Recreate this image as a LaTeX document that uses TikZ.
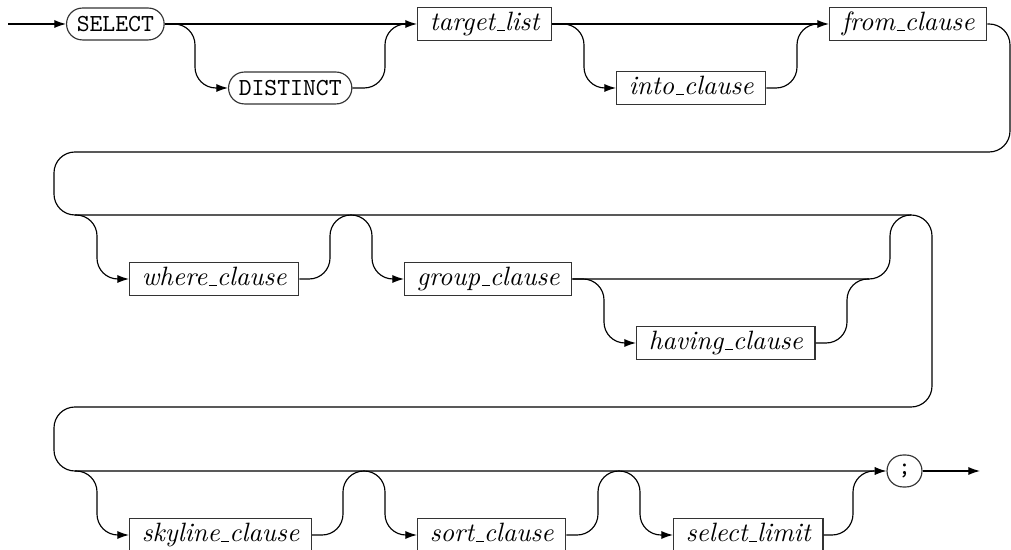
\documentclass[tikz,border=0pt]{standalone}
\usetikzlibrary{arrows.meta}
\newcommand{\usc}{\leavevmode\kern.06em\vbox{\hrule width.3em}}
\begin{document}
\begin{tikzpicture}[x=0.392pt,y=-0.392pt,
  rail/.style={line width=0.45pt, rounded corners=8.2pt},
  tip/.style={-{Latex[length=4.6pt,width=3.2pt]}},
  nonterm/.style={draw=black!80, line width=0.45pt, rectangle,
    font=\fontsize{10.4}{12}\selectfont\itshape,
    text height=7.2pt, text depth=2pt, inner xsep=4.8pt, inner ysep=1.85pt},
  term/.style={draw=black!80, line width=0.45pt, rectangle, rounded corners=6.2pt,
    font=\fontsize{9.6}{11}\selectfont\ttfamily, minimum height=12.5pt,
    inner xsep=4pt, inner ysep=0pt}
]
\useasboundingbox (0,0) rectangle (1011,550);

% nodes
\node[term, anchor=west] (sel) at (66,24) {SELECT};
\node[term, anchor=west] (dis) at (228,88) {DISTINCT};
\node[nonterm, anchor=west] (tl) at (417,24) {target\usc list};
\node[nonterm, anchor=west] (into) at (616,88) {into\usc clause};
\node[nonterm, anchor=west] (from) at (829,24) {from\usc clause};
\node[nonterm, anchor=west] (where) at (129,279) {where\usc clause};
\node[nonterm, anchor=west] (group) at (404,279) {group\usc clause};
\node[nonterm, anchor=west] (having) at (636,343) {having\usc clause};
\node[nonterm, anchor=west] (sky) at (129,535) {skyline\usc clause};
\node[nonterm, anchor=west] (sort) at (417,535) {sort\usc clause};
\node[nonterm, anchor=west] (lim) at (673,535) {select\usc limit};
\node[term, minimum width=13.7pt, inner xsep=0pt] (semi) at (904.5,471) {;};

\coordinate (entry) at (8,24);
\coordinate (exit) at (980,471);
\coordinate (r2) at (75,215);
\coordinate (r3) at (75,471);

% row 1
\draw[rail,tip] (entry) -- (sel.west);
\draw[rail,tip] (sel.east) -- (tl.west);
\draw[rail,tip] (sel.east) -| (195,88) -- (dis.west);
\draw[rail] (dis.east) -| (385,24) -- (406,24);
\draw[rail,tip] (tl.east) -- (from.west);
\draw[rail,tip] (tl.east) -| (584,88) -- (into.west);
\draw[rail] (into.east) -| (797,24) -- (818,24);

% main return path through rows 2 and 3
\draw[rail,tip] (from.east) -| (1010,152) -| (54,215) -| (932,407) -| (54,471) -- (semi.west);

% row 2
\draw[rail,tip] (r2) -| (97,279) -- (where.west);
\draw[rail,tip] (where.east) -| (330,215) -| (372,279) -- (group.west);
\draw[rail] (group.east) -| (890,215) -- (911,215);
\draw[rail,tip] (group.east) -| (604,343) -- (having.west);
\draw[rail] (having.east) -| (847,279) -- (869,279);

% row 3
\draw[rail,tip] (r3) -| (97,535) -- (sky.west);
\draw[rail,tip] (sky.east) -| (343,471) -| (385,535) -- (sort.west);
\draw[rail,tip] (sort.east) -| (598,471) -| (640,535) -- (lim.west);
\draw[rail] (lim.east) -| (853,471) -- (874,471);
\draw[rail,tip] (semi.east) -- (exit);
\end{tikzpicture}
\end{document}
